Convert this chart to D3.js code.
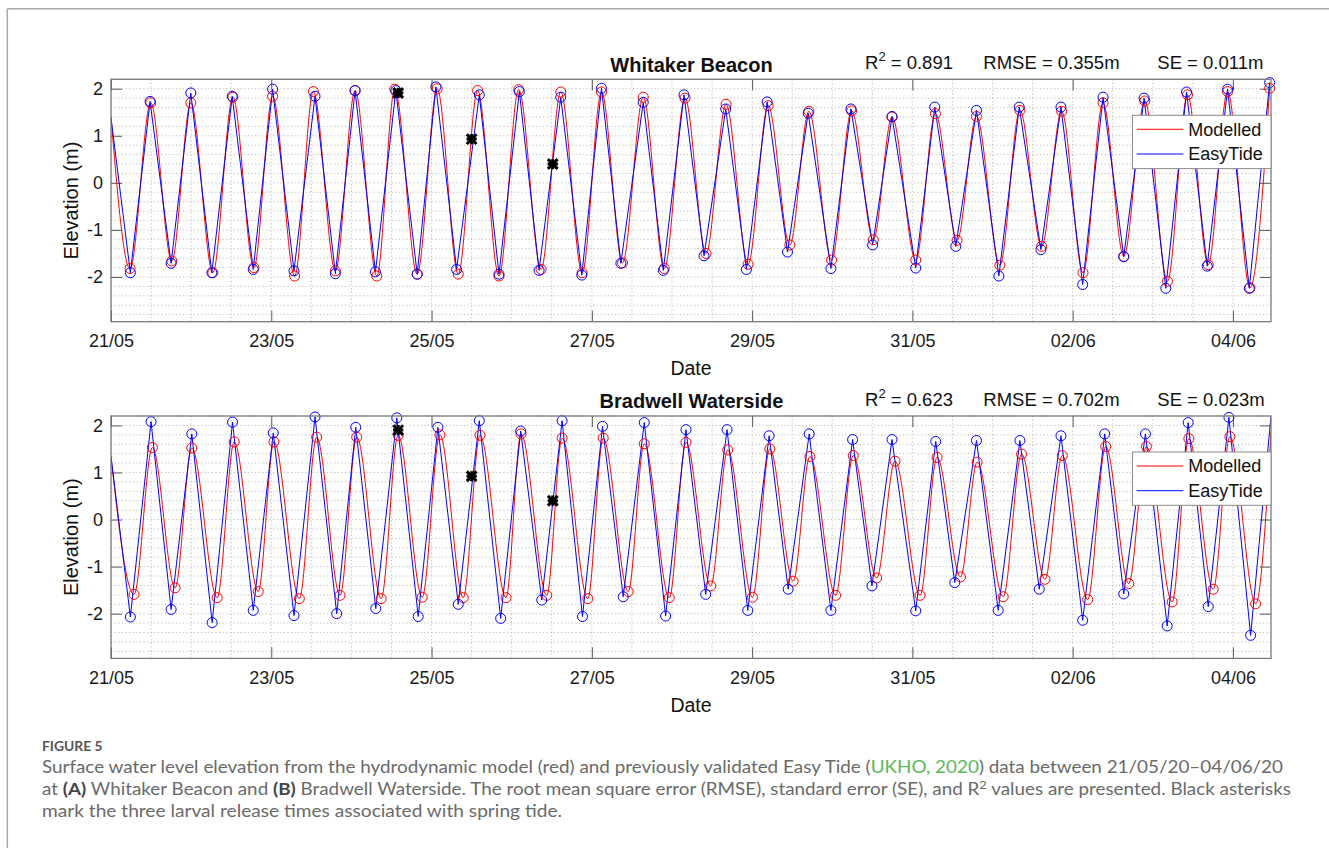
<!DOCTYPE html>
<html>
<head>
<meta charset="utf-8">
<script src="https://cdn.jsdelivr.net/npm/d3@7"></script>
<style>
  body { margin: 0; background: #fff; }
  svg { display: block; }
  .axis text { font-family: "Liberation Sans", Arial, sans-serif; font-size: 18px; fill: #1a1a1a; }
  .axis line { stroke: #5a5a5a; stroke-width: 1; }
  .axis path.domain { display: none; }
  .grid { stroke: #bdbdbd; stroke-width: 1; stroke-dasharray: 1.2 2.4; }
  .label { font-family: "Liberation Sans", Arial, sans-serif; fill: #111; }
  .caption text { font-family: Lato, "Open Sans", sans-serif; font-size: 17.5px; fill: #6a6a6a; }
</style>
</head>
<body>
<div id="chart"></div>
<script>
const WIDTH = 1329;
const HEIGHT = 850;

// all times are hours after 21/05/2020 00:00
const END_H = 347.4;

// Whitaker Beacon, modelled (red) and EasyTide (blue) high / low waters
const wbModT = [0, 5.7, 11.9, 18.2, 23.9, 30.5, 36.5, 42.8, 48.4, 55.0, 60.6, 67.2, 73.1, 79.6, 85.0, 91.7, 97.7, 104.0, 109.8, 116.2, 122.1, 128.8, 134.7, 141.1, 146.9, 153.2, 159.4, 165.7, 171.9, 178.2, 184.2, 190.8, 196.8, 203.3, 209.0, 215.8, 221.8, 228.3, 233.9, 241.0, 246.9, 253.4, 259.2, 266.2, 272.2, 278.7, 284.7, 291.1, 297.1, 303.3, 309.6, 316.4, 322.4, 328.6, 334.4, 341.1, 347.0];
const wbModH = [1.41, -1.82, 1.70, -1.66, 1.70, -1.91, 1.82, -1.80, 1.84, -1.98, 1.94, -1.87, 1.96, -1.98, 1.99, -1.94, 2.00, -1.94, 1.96, -1.98, 1.98, -1.84, 1.93, -1.91, 1.93, -1.70, 1.82, -1.82, 1.80, -1.50, 1.67, -1.73, 1.64, -1.32, 1.52, -1.64, 1.53, -1.21, 1.40, -1.64, 1.47, -1.22, 1.41, -1.75, 1.54, -1.35, 1.52, -1.91, 1.70, -1.56, 1.74, -2.09, 1.87, -1.74, 1.94, -2.23, 2.01];
const wbEasyT = [0, 5.8, 11.7, 18.0, 23.9, 30.2, 36.3, 42.6, 48.4, 54.8, 61.1, 67.2, 73.1, 79.2, 85.3, 91.7, 97.3, 103.5, 110.3, 116.2, 122.3, 128.2, 134.7, 141.0, 146.9, 152.7, 159.4, 165.4, 171.6, 177.6, 184.1, 190.3, 196.5, 202.6, 208.8, 215.6, 221.6, 228.1, 233.9, 241.0, 246.7, 253.0, 259.2, 265.9, 272.0, 278.5, 284.5, 291.0, 297.1, 303.3, 309.4, 315.9, 322.1, 328.3, 334.4, 340.9, 347.0];
const wbEasyH = [1.38, -1.91, 1.73, -1.71, 1.91, -1.91, 1.84, -1.84, 1.99, -1.87, 1.84, -1.93, 1.96, -1.89, 1.96, -1.94, 2.04, -1.84, 1.87, -1.94, 1.94, -1.86, 1.82, -1.96, 2.01, -1.71, 1.71, -1.86, 1.87, -1.55, 1.57, -1.84, 1.72, -1.47, 1.48, -1.82, 1.57, -1.32, 1.41, -1.81, 1.61, -1.35, 1.54, -1.98, 1.61, -1.42, 1.61, -2.16, 1.82, -1.57, 1.80, -2.24, 1.93, -1.77, 1.99, -2.24, 2.13];

// Bradwell Waterside
const bwModT = [0, 6.9, 12.4, 19.2, 24.2, 31.8, 36.9, 44.1, 48.8, 56.4, 61.6, 68.6, 73.6, 80.9, 86.0, 93.2, 98.5, 105.5, 110.5, 118.3, 122.8, 130.5, 135.1, 142.8, 147.4, 154.9, 159.7, 167.2, 172.2, 179.6, 184.7, 192.1, 197.3, 204.3, 209.3, 217.0, 222.3, 229.3, 234.8, 242.3, 247.4, 254.4, 259.4, 267.2, 272.7, 279.7, 284.9, 292.5, 297.9, 304.8, 310.1, 317.8, 322.8, 330.1, 335.1, 342.8, 347.4];
const bwModH = [1.34, -1.59, 1.53, -1.45, 1.52, -1.66, 1.65, -1.53, 1.65, -1.68, 1.75, -1.61, 1.75, -1.68, 1.79, -1.65, 1.80, -1.66, 1.79, -1.66, 1.82, -1.61, 1.73, -1.68, 1.73, -1.53, 1.61, -1.66, 1.64, -1.41, 1.48, -1.65, 1.50, -1.31, 1.34, -1.61, 1.36, -1.24, 1.24, -1.61, 1.32, -1.22, 1.22, -1.64, 1.39, -1.27, 1.36, -1.70, 1.55, -1.36, 1.55, -1.75, 1.72, -1.48, 1.76, -1.79, 1.85];
const bwEasyT = [0, 5.8, 12.0, 18.0, 24.2, 30.3, 36.4, 42.6, 48.6, 54.8, 61.1, 67.6, 73.3, 79.3, 85.6, 92.0, 97.9, 104.0, 110.3, 116.7, 122.7, 129.0, 135.1, 141.2, 147.2, 153.4, 159.7, 166.1, 172.2, 178.1, 184.5, 190.7, 197.1, 202.8, 209.1, 215.6, 222.1, 227.9, 233.9, 241.0, 247.0, 252.7, 259.2, 265.7, 272.2, 278.0, 284.5, 291.0, 297.6, 303.3, 309.8, 316.3, 322.6, 328.6, 334.8, 341.3, 347.4];
const bwEasyH = [1.34, -2.07, 2.08, -1.91, 1.82, -2.19, 2.07, -1.93, 1.84, -2.04, 2.18, -2.00, 1.96, -1.89, 2.16, -2.06, 1.96, -1.80, 2.10, -2.10, 1.88, -1.71, 2.10, -2.06, 1.98, -1.64, 2.06, -2.05, 1.91, -1.59, 1.91, -1.93, 1.78, -1.48, 1.82, -1.93, 1.70, -1.41, 1.70, -1.94, 1.66, -1.34, 1.68, -1.93, 1.68, -1.48, 1.78, -2.14, 1.82, -1.58, 1.82, -2.26, 2.06, -1.85, 2.17, -2.46, 2.20];

// larval release times (black asterisks)
const releaseT = [86.0, 108.0, 132.3];
const wbReleaseH = [1.91, 0.93, 0.40];
const bwReleaseH = [1.90, 0.92, 0.40];

const xTickDays = [0, 2, 4, 6, 8, 10, 12, 14];
const yTicks = [-2, -1, 0, 1, 2];
const Y_DOMAIN = [-2.95, 2.2];

const START = new Date(2020, 4, 21);
const hourToDate = h => new Date(START.getTime() + h * 3600 * 1000);
const zipSeries = (t, h) => t.map((d, i) => ({ t: hourToDate(d), h: h[i], edge: d <= 0 || d >= END_H }));

const panels = [
  { title: "Whitaker Beacon", r2: "0.891", rmse: "0.355m", se: "0.011m", top: 79.3,
    mod: zipSeries(wbModT, wbModH), easy: zipSeries(wbEasyT, wbEasyH), stars: zipSeries(releaseT, wbReleaseH) },
  { title: "Bradwell Waterside", r2: "0.623", rmse: "0.702m", se: "0.023m", top: 416,
    mod: zipSeries(bwModT, bwModH), easy: zipSeries(bwEasyT, bwEasyH), stars: zipSeries(releaseT, bwReleaseH) }
];

const PLOT_L = 111, PLOT_R = 1271, PH = 242.4, TICK = 11;
const RED = "#ff0000", BLUE = "#0000ff";

var svg = d3.select("#chart").append("svg")
  .attr("width", WIDTH)
  .attr("height", HEIGHT);

// page frame
svg.append("line").attr("x1", 7.3).attr("x2", WIDTH).attr("y1", 8.7).attr("y2", 8.7)
  .attr("stroke", "#aaa").attr("stroke-width", 1.5);
svg.append("line").attr("x1", 7.3).attr("x2", 7.3).attr("y1", 8.7).attr("y2", 848)
  .attr("stroke", "#aaa").attr("stroke-width", 1.5);

let x = d3.scaleTime()
  .domain([START, hourToDate(END_H)])
  .range([PLOT_L, PLOT_R]);

const xTicks = xTickDays.map(d => d3.timeDay.offset(START, d));
const xMinor = d3.range(0, END_H, 12).map(hourToDate);
const yMinor = d3.range(-28, 23, 2).map(d => d / 10);

panels.forEach((p, i) => drawPanel(p, i));

function drawPanel(p, i) {
  let y = d3.scaleLinear().domain(Y_DOMAIN).range([PH, 0]);
  let g = svg.append("g").attr("transform", "translate(0," + p.top + ")");

  g.append("clipPath").attr("id", "clip" + i)
    .append("rect")
    .attr("x", PLOT_L).attr("y", 0)
    .attr("width", PLOT_R - PLOT_L).attr("height", PH);

  // dotted grid (minor + major)
  g.selectAll(".vgrid").data(xMinor).join("line")
    .attr("class", "grid vgrid")
    .attr("x1", d => x(d)).attr("x2", d => x(d))
    .attr("y1", 0).attr("y2", PH);
  g.selectAll(".hgrid").data(yMinor).join("line")
    .attr("class", "grid hgrid")
    .attr("x1", PLOT_L).attr("x2", PLOT_R)
    .attr("y1", d => y(d)).attr("y2", d => y(d));

  // axes, ticks pointing inwards on all four sides
  g.append("g").attr("class", "axis")
    .attr("transform", "translate(0," + PH + ")")
    .call(d3.axisBottom(x).tickValues(xTicks).tickFormat(d3.timeFormat("%d/%m")).tickSize(-TICK).tickPadding(13));
  g.append("g").attr("class", "axis")
    .call(d3.axisTop(x).tickValues(xTicks).tickFormat("").tickSize(-TICK));
  g.append("g").attr("class", "axis")
    .attr("transform", "translate(" + PLOT_L + ",0)")
    .call(d3.axisLeft(y).tickValues(yTicks).tickFormat(d => String(d)).tickSize(-TICK).tickPadding(8));
  g.append("g").attr("class", "axis")
    .attr("transform", "translate(" + PLOT_R + ",0)")
    .call(d3.axisRight(y).tickValues(yTicks).tickFormat("").tickSize(-TICK));

  let lineMod = d3.line().x(d => x(d.t)).y(d => y(d.h)).curve(d3.curveMonotoneX);
  let lineEasy = d3.line().x(d => x(d.t)).y(d => y(d.h));

  let lines = g.append("g").attr("clip-path", "url(#clip" + i + ")");
  lines.append("path").datum(p.mod)
    .attr("d", lineMod).attr("fill", "none").attr("stroke", RED).attr("stroke-width", 1);
  lines.append("path").datum(p.easy)
    .attr("d", lineEasy).attr("fill", "none").attr("stroke", BLUE).attr("stroke-width", 1);

  g.selectAll(".modpt").data(p.mod.filter(d => !d.edge)).join("circle")
    .attr("class", "modpt")
    .attr("cx", d => x(d.t)).attr("cy", d => y(d.h)).attr("r", 5)
    .attr("fill", "none").attr("stroke", RED).attr("stroke-width", 1);
  g.selectAll(".easypt").data(p.easy.filter(d => !d.edge)).join("circle")
    .attr("class", "easypt")
    .attr("cx", d => x(d.t)).attr("cy", d => y(d.h)).attr("r", 5)
    .attr("fill", "none").attr("stroke", BLUE).attr("stroke-width", 1);

  // asterisks = plus + times, like the matlab '*' marker
  let plus = d3.symbol().type(d3.symbolPlus || d3.symbolCross).size(36);
  let times = d3.symbol().type(d3.symbolTimes || d3.symbolCross).size(64);
  [plus, times].forEach(sym => {
    g.selectAll(null).data(p.stars).join("path")
      .attr("transform", d => "translate(" + x(d.t) + "," + y(d.h) + ")")
      .attr("d", sym)
      .attr("fill", "none").attr("stroke", "#000").attr("stroke-width", 3);
  });

  // box
  g.append("rect")
    .attr("x", PLOT_L).attr("y", 0).attr("width", PLOT_R - PLOT_L).attr("height", PH)
    .attr("fill", "none").attr("stroke", "#7a7a7a").attr("stroke-width", 1.3);

  // labels
  g.append("text").attr("class", "label")
    .attr("x", (PLOT_L + PLOT_R) / 2 + 0.5).attr("y", -7.6)
    .attr("text-anchor", "middle").attr("font-size", 20).attr("font-weight", "bold")
    .text(p.title);

  let r2 = g.append("text").attr("class", "label").attr("x", 865).attr("y", -10).attr("font-size", 18.5);
  r2.append("tspan").text("R");
  r2.append("tspan").attr("dy", -8).attr("font-size", 13).text("2");
  r2.append("tspan").attr("dy", 8).text(" = " + p.r2);
  g.append("text").attr("class", "label").attr("x", 983.3).attr("y", -10).attr("font-size", 18.5)
    .text("RMSE = " + p.rmse);
  g.append("text").attr("class", "label").attr("x", 1157.3).attr("y", -10).attr("font-size", 18.5)
    .text("SE = " + p.se);

  g.append("text").attr("class", "label")
    .attr("transform", "translate(78," + (PH / 2) + ") rotate(-90)")
    .attr("text-anchor", "middle").attr("font-size", 20)
    .text("Elevation (m)");
  g.append("text").attr("class", "label")
    .attr("x", (PLOT_L + PLOT_R) / 2).attr("y", PH + 53.3)
    .attr("text-anchor", "middle").attr("font-size", 19.5)
    .text("Date");

  // legend
  let leg = g.append("g").attr("transform", "translate(1132.5,36)");
  leg.append("rect").attr("width", 138.5).attr("height", 53.3)
    .attr("fill", "#fff").attr("stroke", "#8a8a8a").attr("stroke-width", 1);
  [["Modelled", RED], ["EasyTide", BLUE]].forEach((e, k) => {
    let ly = 14 + k * 24.7;
    leg.append("line").attr("x1", 4.2).attr("x2", 50.8).attr("y1", ly).attr("y2", ly)
      .attr("stroke", e[1]).attr("stroke-width", 1);
    leg.append("text").attr("class", "label").attr("x", 55.8).attr("y", ly).attr("dy", "0.35em")
      .attr("font-size", 18).text(e[0]);
  });
}

/* Caption */
let cap = svg.append("g").attr("class", "caption");
cap.append("text").attr("x", 42).attr("y", 751)
  .attr("font-weight", "bold").style("font-size", "13.5px").style("fill", "#555")
  .attr("textLength", 60.6).attr("lengthAdjust", "spacingAndGlyphs")
  .text("FIGURE 5");

let l1 = cap.append("text").attr("x", 42).attr("y", 773)
  .attr("textLength", 1241).attr("lengthAdjust", "spacingAndGlyphs");
l1.append("tspan").text("Surface water level elevation from the hydrodynamic model (red) and previously validated Easy Tide (");
l1.append("tspan").style("fill", "#5cb85c").text("UKHO, 2020");
l1.append("tspan").text(") data between 21/05/20\u201304/06/20");

let l2 = cap.append("text").attr("x", 42).attr("y", 795)
  .attr("textLength", 1249).attr("lengthAdjust", "spacingAndGlyphs");
l2.append("tspan").text("at ");
l2.append("tspan").attr("font-weight", "bold").style("fill", "#444").text("(A)");
l2.append("tspan").text(" Whitaker Beacon and ");
l2.append("tspan").attr("font-weight", "bold").style("fill", "#444").text("(B)");
l2.append("tspan").text(" Bradwell Waterside. The root mean square error (RMSE), standard error (SE), and R");
l2.append("tspan").attr("dy", -6).style("font-size", "12px").text("2");
l2.append("tspan").attr("dy", 6).text(" values are presented. Black asterisks");

cap.append("text").attr("x", 42).attr("y", 817)
  .attr("textLength", 520).attr("lengthAdjust", "spacingAndGlyphs")
  .text("mark the three larval release times associated with spring tide.");
</script>
</body>
</html>
